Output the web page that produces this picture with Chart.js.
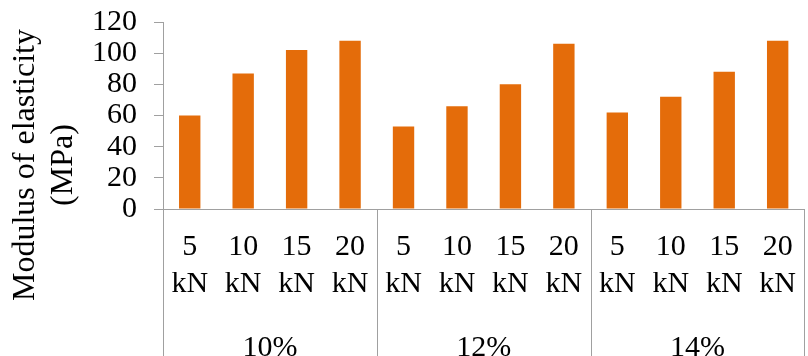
<!DOCTYPE html>
<html>
<head>
<meta charset="utf-8">
<script src="https://cdn.jsdelivr.net/npm/chart.js@4/dist/chart.umd.min.js"></script>
<style>
  html, body { margin: 0; padding: 0; background: #fff; overflow: hidden; }
  #wrap { width: 815px; height: 356px; position: relative; }
</style>
</head>
<body>
<div id="wrap"><canvas id="chart"></canvas></div>
<script>
// Moisture content groups and compaction loads
const groups = ['10%', '12%', '14%'];
const loads = ['5 kN', '10 kN', '15 kN', '20 kN'];

// Modulus of elasticity (MPa) for each load, per moisture content
const modulus10 = [60, 87, 102, 108];
const modulus12 = [53, 66, 80, 106];
const modulus14 = [62, 72, 88, 108];

const yTicks = { min: 0, max: 120, step: 20 };
const yTitle = ['Modulus of elasticity', '(MPa)'];

const AXIS = '#A0A0A0';
const BAR = '#E46C0A';
const SERIF = '"Liberation Serif", "Times New Roman", serif';

// One category per (group, load) pair; each label splits into value + unit lines
const categories = [];
groups.forEach(() => loads.forEach(l => categories.push(l.split(' '))));
const values = [].concat(modulus10, modulus12, modulus14);

// Group labels, group separators and the rotated axis title
const groupAxis = {
  id: 'groupAxis',
  afterDraw(chart) {
    const ctx = chart.ctx;
    const x = chart.scales.x;
    const area = chart.chartArea;
    const n = loads.length;
    const h = chart.height;
    ctx.save();
    ctx.strokeStyle = AXIS;
    ctx.lineWidth = 1;
    for (let g = 0; g <= groups.length; g++) {
      let px;
      if (g === 0) px = x.left;
      else if (g === groups.length) px = x.right;
      else px = (x.getPixelForTick(g * n - 1) + x.getPixelForTick(g * n)) / 2;
      px = Math.round(px) + 0.5;
      ctx.beginPath();
      ctx.moveTo(px, area.bottom);
      ctx.lineTo(px, h);
      ctx.stroke();
    }
    ctx.fillStyle = '#000';
    ctx.font = '30px ' + SERIF;
    ctx.textAlign = 'center';
    ctx.textBaseline = 'middle';
    groups.forEach((g, i) => {
      const cx = (x.getPixelForTick(i * n) + x.getPixelForTick(i * n + n - 1)) / 2;
      ctx.fillText(g, cx, 348);
    });

    ctx.font = '32px ' + SERIF;
    ctx.textBaseline = 'alphabetic';
    const baselines = [34, 72];
    yTitle.forEach((line, i) => {
      ctx.save();
      ctx.translate(baselines[i], 165);
      ctx.rotate(-Math.PI / 2);
      ctx.fillText(line, 0, 0);
      ctx.restore();
    });
    ctx.restore();
  }
};

new Chart(document.getElementById('chart'), {
  type: 'bar',
  data: {
    labels: categories,
    datasets: [{
      data: values,
      backgroundColor: BAR,
      borderWidth: 0,
      barPercentage: 0.4,
      categoryPercentage: 1.0
    }]
  },
  options: {
    responsive: true,
    maintainAspectRatio: false,
    animation: false,
    devicePixelRatio: 1,
    layout: { padding: 0 },
    plugins: { legend: { display: false }, tooltip: { enabled: false } },
    scales: {
      x: {
        offset: true,
        grid: { display: false, drawTicks: false },
        border: { display: true, color: AXIS, width: 1 },
        ticks: {
          color: '#000',
          padding: 19,
          maxRotation: 0,
          autoSkip: false,
          font: { family: SERIF, size: 30, lineHeight: 1.25 }
        },
        afterFit(s) { s.height = 147; }
      },
      y: {
        min: yTicks.min,
        max: yTicks.max,
        grid: { drawOnChartArea: false, drawTicks: true, tickLength: 9, color: AXIS },
        border: { display: true, color: AXIS, width: 1 },
        ticks: {
          stepSize: yTicks.step,
          autoSkip: false,
          color: '#000',
          padding: 17,
          font: { family: SERIF, size: 30, lineHeight: 1.0 }
        },
        afterFit(s) {
          s.width = 163;
          s.paddingTop = 22;
          s.paddingBottom = 0;
        }
      }
    }
  },
  plugins: [groupAxis]
});
</script>
</body>
</html>
